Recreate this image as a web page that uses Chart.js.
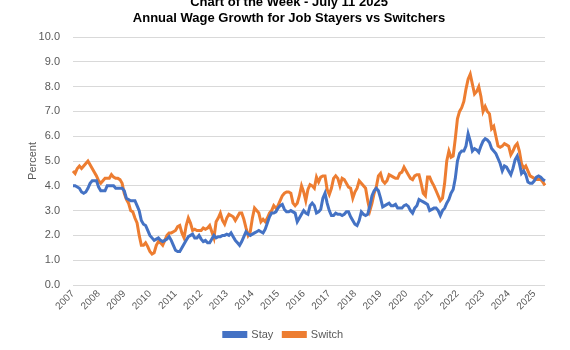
<!DOCTYPE html>
<html>
<head>
<meta charset="utf-8">
<script src="https://cdn.jsdelivr.net/npm/chart.js@4.4.0/dist/chart.umd.min.js"></script>
<style>
html,body{margin:0;padding:0;background:#fff;}
#wrap{width:570px;height:350px;position:relative;}
</style>
</head>
<body>
<div id="wrap"><canvas id="c" width="570" height="350"></canvas></div>
<script>
const titleLines = ["Chart of the Week - July 11 2025", "Annual Wage Growth for Job Stayers vs Switchers"];
const yearLabels = ["2007","2008","2009","2010","2011","2012","2013","2014","2015","2016","2017","2018","2019","2020","2021","2022","2023","2024","2025"];
const seriesNames = ["Stay", "Switch"];

const stay = [
// 2007
4.0,4.0,3.95,3.9,3.75,3.7,3.75,3.9,4.1,4.2,4.2,4.2,
// 2008
3.95,3.8,3.8,3.8,4.0,4.0,4.0,4.0,3.9,3.9,3.9,3.9,
// 2009
3.8,3.5,3.45,3.4,3.4,3.4,3.2,3.0,2.6,2.45,2.4,2.2,
// 2010
2.0,1.9,1.8,1.85,1.9,1.8,1.75,1.8,1.85,1.95,1.8,1.6,
// 2011
1.4,1.35,1.35,1.5,1.65,1.8,1.95,2.0,2.05,1.9,1.9,2.0,
// 2012
1.85,1.75,1.8,1.7,1.7,1.85,2.0,1.9,1.95,1.95,2.0,2.0,
// 2013
2.05,2.0,2.1,1.95,1.8,1.7,1.6,1.75,1.95,2.15,2.05,2.0,
// 2014
2.05,2.1,2.15,2.2,2.15,2.1,2.25,2.5,2.75,2.9,2.9,2.95,
// 2015
3.1,3.2,3.25,3.05,2.95,2.95,3.0,2.95,2.9,2.55,2.7,2.85,
// 2016
3.0,2.9,2.85,3.2,3.3,3.2,2.9,2.95,3.05,3.5,3.7,3.3,
// 2017
3.0,2.8,2.8,2.9,2.85,2.85,2.8,2.85,2.95,2.95,2.75,2.6,
// 2018
2.45,2.4,2.6,2.95,2.85,2.8,2.85,3.2,3.6,3.8,3.9,3.8,
// 2019
3.5,3.15,3.2,3.25,3.3,3.2,3.2,3.25,3.1,3.1,3.1,3.2,
// 2020
3.24,3.17,3.0,2.9,3.1,3.2,3.45,3.4,3.35,3.3,3.25,3.0,
// 2021
3.05,3.1,3.1,3.0,2.8,3.0,3.1,3.3,3.45,3.7,3.85,4.3,
// 2022
5.0,5.3,5.4,5.4,5.6,6.1,5.8,5.4,5.5,5.45,5.35,5.6,
// 2023
5.8,5.9,5.85,5.75,5.5,5.4,5.3,5.1,4.9,4.6,4.8,4.75,
// 2024
4.6,4.45,4.7,5.05,5.2,4.9,4.5,4.6,4.45,4.15,4.1,4.1,
// 2025
4.2,4.35,4.4,4.35,4.25,4.2
];

const sw = [
// 2007
4.6,4.5,4.7,4.8,4.7,4.8,4.9,5.0,4.85,4.7,4.55,4.4,
// 2008
4.2,4.1,4.2,4.3,4.3,4.3,4.45,4.35,4.3,4.3,4.25,4.1,
// 2009
3.7,3.45,3.3,3.0,2.95,2.7,2.5,2.0,1.6,1.6,1.7,1.55,
// 2010
1.35,1.25,1.3,1.6,1.75,1.7,1.6,1.8,2.0,2.1,2.1,2.15,
// 2011
2.2,2.35,2.4,2.1,1.9,2.4,2.7,2.5,2.2,2.25,2.2,2.2,
// 2012
2.2,2.3,2.25,2.3,2.4,2.15,1.9,2.55,2.7,2.9,2.6,2.45,
// 2013
2.7,2.85,2.8,2.75,2.6,2.75,2.9,2.9,2.65,2.3,2.0,2.15,
// 2014
2.7,3.1,3.0,2.9,2.55,2.65,2.55,2.7,2.9,3.0,3.2,3.1,
// 2015
3.2,3.4,3.6,3.7,3.75,3.75,3.7,3.3,3.2,3.3,3.6,4.0,
// 2016
3.75,3.4,3.85,4.05,4.0,3.9,4.35,4.15,4.35,4.4,4.4,3.85,
// 2017
3.65,3.9,4.3,4.4,4.3,4.0,4.3,4.25,4.1,3.95,3.9,3.5,
// 2018
3.75,3.9,4.2,4.1,4.0,3.9,3.4,3.0,3.3,3.7,3.95,4.4,
// 2019
4.5,4.2,4.1,4.2,4.45,4.4,4.35,4.3,4.3,4.5,4.55,4.75,
// 2020
4.6,4.45,4.3,4.25,4.4,4.45,4.45,4.1,3.7,3.6,4.35,4.35,
// 2021
4.15,4.0,3.8,3.6,3.4,3.5,4.1,5.0,5.4,5.15,5.2,5.9,
// 2022
6.7,7.0,7.15,7.4,7.9,8.3,8.5,8.1,7.7,7.8,8.0,7.6,
// 2023
7.0,7.2,7.0,6.9,6.3,6.4,6.0,5.6,5.55,5.6,5.7,5.65,
// 2024
5.6,5.25,5.4,5.6,5.7,5.4,4.9,4.7,4.8,4.6,4.4,4.35,
// 2025
4.3,4.25,4.25,4.25,4.15,4.02
];

// month labels built from the year labels
const labels = [];
for (let i = 0; i < stay.length; i++) {
  const y = yearLabels[Math.floor(i / 12)];
  labels.push(y + "-" + String(i % 12 + 1).padStart(2, "0"));
}

const FONT = "'Liberation Sans', Arial, sans-serif";
const GREY = "#595959";

const titlePlugin = {
  id: 'titleLines',
  afterDraw(chart) {
    const ctx = chart.ctx;
    ctx.save();
    ctx.fillStyle = "#000";
    ctx.font = "bold 13px " + FONT;
    ctx.textAlign = "center";
    ctx.textBaseline = "alphabetic";
    ctx.fillText(titleLines[0], 289, 5.5);
    ctx.fillText(titleLines[1], 289, 22);
    ctx.restore();
  }
};

new Chart(document.getElementById('c'), {
  type: 'line',
  data: {
    labels: labels,
    datasets: [
      { label: seriesNames[0], data: stay, borderColor: '#4472C4', backgroundColor: '#4472C4', borderWidth: 3, pointRadius: 0, tension: 0 },
      { label: seriesNames[1], data: sw, borderColor: '#ED7D31', backgroundColor: '#ED7D31', borderWidth: 3, pointRadius: 0, tension: 0 }
    ]
  },
  options: {
    responsive: false,
    animation: false,
    devicePixelRatio: 1,
    layout: { padding: { top: 37, left: 22, right: 25, bottom: 0 } },
    plugins: {
      legend: {
        position: 'bottom',
        labels: { boxWidth: 22, boxHeight: 4, font: { family: FONT, size: 11 }, color: GREY, padding: 10 }
      },
      title: { display: false },
      tooltip: { enabled: false }
    },
    scales: {
      x: {
        grid: { display: false, drawTicks: false },
        border: { display: false },
        ticks: {
          autoSkip: false,
          maxRotation: 45,
          minRotation: 45,
          padding: 3,
          color: GREY,
          font: { family: FONT, size: 10 },
          callback: function(v, i) { return (i % 12 === 0) ? yearLabels[i / 12] : null; }
        },
        afterFit: function(s) { s.height = 34; }
      },
      y: {
        min: 0, max: 10,
        ticks: { stepSize: 1, padding: 13, color: GREY, font: { family: FONT, size: 11 },
          callback: v => Number(v).toFixed(1) },
        grid: { color: '#d9d9d9', lineWidth: 1, drawTicks: false },
        border: { display: false },
        title: { display: true, text: 'Percent', color: GREY, font: { family: FONT, size: 11 }, padding: { top: 4, bottom: 4 } },
        afterFit: function(s) { s.width = 51; }
      }
    }
  },
  plugins: [titlePlugin]
});
</script>
</body>
</html>
